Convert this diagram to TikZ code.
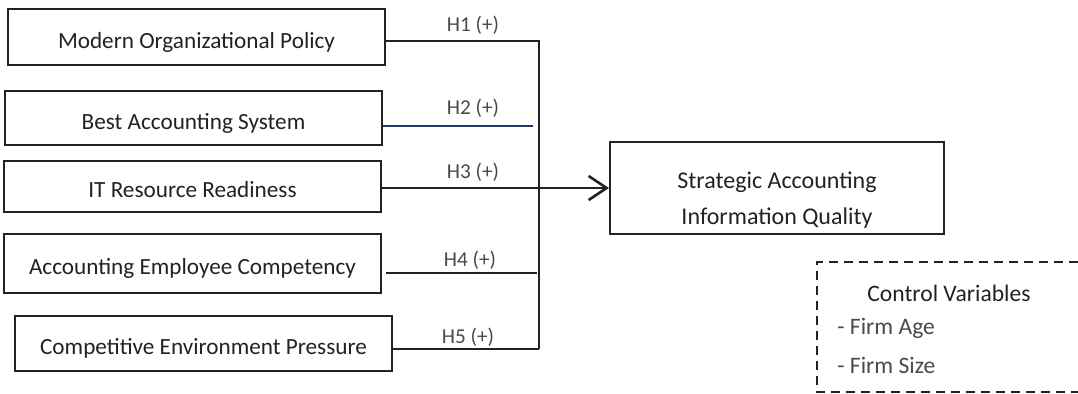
\documentclass[tikz,border=0pt]{standalone}
\usepackage{xcolor}
\usepackage{fontspec}
\setmainfont{Carlito}
\usepackage{tikz}
\usetikzlibrary{positioning, calc, arrows.meta}

\definecolor{inkgray}{HTML}{222222}
\definecolor{labelgray}{HTML}{4A4A4A}
\definecolor{hnavy}{HTML}{1F3864}

\begin{document}
\begin{tikzpicture}[
    x=0.5pt, y=-0.5pt,
    factor/.style={rectangle, draw=inkgray, line width=1pt, minimum width=188.5pt, inner sep=0pt, text=inkgray, font=\fontsize{11.6}{13}\selectfont, text height=12pt, text depth=1pt},
    outcome/.style={rectangle, draw=inkgray, line width=1pt, minimum width=167pt, minimum height=46pt, inner sep=0pt},
    path_line/.style={draw=inkgray, line width=0.9pt},
    main_arrow/.style={-{Straight Barb[length=9pt, width=12pt]}, draw=inkgray, line width=1.3pt},
    hyp_label/.style={font=\fontsize{10.6}{12}\selectfont, text=labelgray, inner sep=0pt},
    ctrl_text/.style={font=\fontsize{11.8}{13}\selectfont, inner sep=0pt}
]
    \useasboundingbox (0,0) rectangle (1078,393);

    % Independent variables
    \node[factor, minimum height=28pt] (policy) at (196.5,37) {Modern Organizational Policy};
    \node[factor, minimum height=27pt] (system) at (193.5,118) {Best Accounting System};
    \node[factor, minimum height=25.5pt] (itres) at (192.5,186.5) {IT Resource Readiness};
    \node[factor, minimum height=29.5pt] (staff) at (192.5,263.5) {Accounting Employee Competency};
    \node[factor, minimum height=27.5pt] (pressure) at (203.5,343.5) {Competitive Environment Pressure};

    % Dependent variable
    \node[outcome] (quality) at (777,188) {};
    \node[align=center, text=inkgray, font=\fontsize{12}{18}\selectfont] (qualitytext) at (777,200) {Strategic Accounting\\Information Quality};

    % Junction points on the collector line
    \coordinate (j1) at (539,41);
    \coordinate (j2) at (533,126);
    \coordinate (j4) at (537,273);
    \coordinate (j5) at (539,349);

    % Hypothesis paths
    \draw[path_line] (policy.east |- j1) -- (j1) -- (j5);
    \draw[path_line, draw=hnavy] (system.east |- j2) -- (j2);
    \draw[main_arrow] (itres.east |- 0,188) -- (quality.west |- 0,188);
    \draw[path_line] ([xshift=2pt]staff.east |- j4) -- (j4);
    \draw[path_line] (pressure.east |- j5) -- (j5);

    \node[hyp_label] (h1) at (473,25) {H1 (+)};
    \node[hyp_label] (h2) at (473,108) {H2 (+)};
    \node[hyp_label] (h3) at (473,172) {H3 (+)};
    \node[hyp_label] (h4) at (470,260) {H4 (+)};
    \node[hyp_label] (h5) at (468,337) {H5 (+)};

    % Control variables
    \draw[draw=inkgray, line width=0.9pt, dash pattern=on 4.5pt off 3pt] (1078,262) -- (817,262) -- (817,392) -- (1078,392);
    \node[ctrl_text, text=inkgray] (ctrl) at (949,293) {Control Variables};
    \node[ctrl_text, text=labelgray, anchor=west] (age) at (837,328) {- Firm Age};
    \node[ctrl_text, text=labelgray, anchor=west] (size) at (837,365) {- Firm Size};
\end{tikzpicture}
\end{document}
